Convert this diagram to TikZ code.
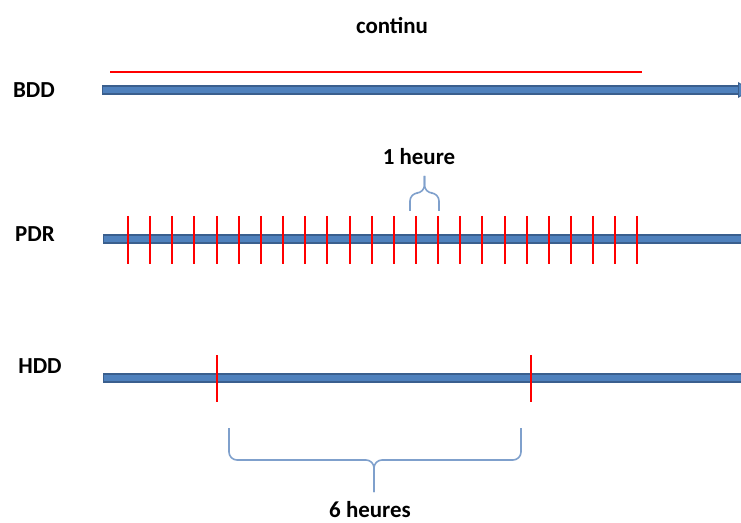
\documentclass[tikz,border=0pt]{standalone}
\usepackage{fontspec}
\setmainfont{Carlito}
\usetikzlibrary{arrows.meta}
\definecolor{barblue}{HTML}{4F81BD}
\definecolor{bardark}{HTML}{3A5F8E}
\definecolor{bracelight}{HTML}{7FA0CC}
\definecolor{tickred}{HTML}{FF0000}

\begin{document}
\begin{tikzpicture}[x=0.75pt, y=-0.75pt,
  every node/.style={font=\fontsize{17.2}{20}\selectfont\bfseries, inner sep=0pt},
  baredge/.style={line width=6.8pt, draw=bardark},
  barfill/.style={line width=5pt, draw=barblue},
  tick/.style={line width=1.5pt, draw=tickred},
  hbrace/.style={line width=1.2pt, draw=bracelight, rounded corners=6pt}]
\useasboundingbox (0,0) rectangle (741,523);

\node (bdd) at (34,90) {BDD};
\node (pdr) at (35,234) {PDR};
\node (hdd) at (40,366) {HDD};
\node (cont) at (392,26) {continu};
\node (h1) at (419,157) {1 heure};
\node (h6) at (370,510) {6 heures};

\coordinate (bdd-s) at (102,90);
\coordinate (bdd-e) at (752,90);
\coordinate (pdr-s) at (103,239);
\coordinate (pdr-e) at (745,239);
\coordinate (hdd-s) at (103,378);
\coordinate (hdd-e) at (745,378);

\draw[baredge] (bdd-s) -- ([xshift=-9pt]bdd-e);
\draw[barfill] ([xshift=0.6pt]bdd-s) -- ([xshift=-9pt]bdd-e);
\fill[bardark] (bdd-e) -- ++(-14,-8) -- ++(0,16) -- cycle;
\fill[barblue] ([xshift=-1.5pt]bdd-e) -- ++(-11,-6.3) -- ++(0,12.6) -- cycle;
\draw[baredge] (pdr-s) -- (pdr-e);
\draw[barfill] ([xshift=0.6pt]pdr-s) -- (pdr-e);
\draw[baredge] (hdd-s) -- (hdd-e);
\draw[barfill] ([xshift=0.6pt]hdd-s) -- (hdd-e);

\draw[tick, line width=1.1pt] (110,72) -- (642,72);

\foreach \i in {0,...,23}
  \draw[tick] ({128+22.15*\i},216) -- ({128+22.15*\i},264);

\draw[tick] (217,355) -- (217,402);
\draw[tick] (531,355) -- (531,402);

\draw[hbrace] (410,211) -- (410,193) -- (424.5,193) -- (424.5,176);
\draw[hbrace] (439,211) -- (439,193) -- (424.5,193) -- (424.5,176);

\draw[hbrace] (229,428) -- (229,460) -- (374,460) -- (374,492);
\draw[hbrace] (521,428) -- (521,460) -- (374,460) -- (374,492);
\end{tikzpicture}
\end{document}
